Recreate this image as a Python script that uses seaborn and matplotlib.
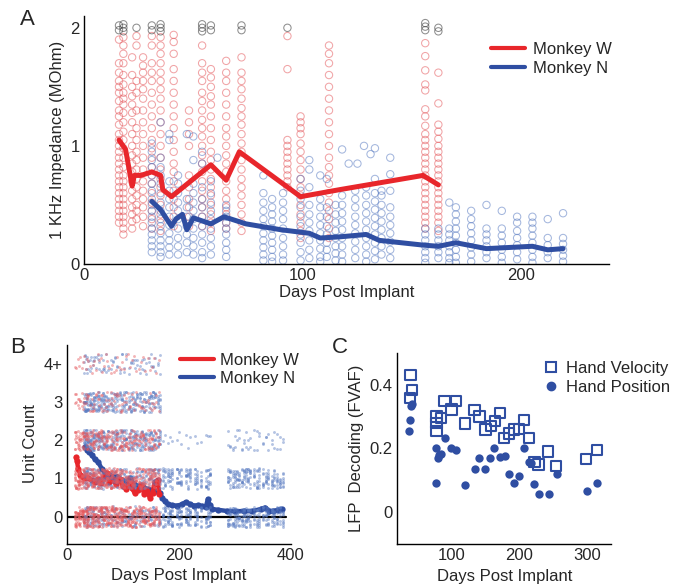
"""Electrode impedance, unit count and LFP decoding over days post implant."""

import pandas as pd
import matplotlib
matplotlib.use("Agg")
import matplotlib.pyplot as plt
from matplotlib.lines import Line2D
import seaborn as sns

# ---------------- Panel A: 1 kHz impedance per electrode ----------------
W_days_A = [16, 18, 22, 24, 27, 31, 35, 41, 48, 54, 58, 65, 72, 93, 99, 112, 156, 162]
W_imp_A = [
    [2.02, 1.98, 1.9, 1.7, 1.62, 1.55, 1.5, 1.45, 1.38, 1.3, 1.25, 1.18, 1.1, 1.05, 1.0, 0.95,
     0.9, 0.85, 0.8, 0.75, 0.7, 0.65, 0.6, 0.55, 0.5, 0.45, 0.4, 0.35],
    [2.03, 2.0, 1.97, 1.92, 1.85, 1.78, 1.7, 1.6, 1.52, 1.45, 1.4, 1.35, 1.28, 1.2, 1.12, 1.05,
     0.98, 0.9, 0.82, 0.75, 0.7, 0.65, 0.6, 0.55, 0.5, 0.45, 0.4, 0.35, 0.3, 0.25],
    [1.75, 1.6, 1.5, 1.42, 1.35, 1.28, 1.2, 1.1, 1.0, 0.92, 0.85, 0.78, 0.7, 0.62, 0.55, 0.48,
     0.42, 0.36, 0.3],
    [2.0, 1.93, 1.85, 1.55, 1.45, 1.3, 1.15, 1.05, 0.95, 0.88, 0.8, 0.72, 0.65, 0.58, 0.5, 0.45,
     0.38],
    [1.75, 1.68, 1.62, 1.55, 1.48, 1.4, 1.3, 1.2, 1.1, 1.0, 0.9, 0.8, 0.7, 0.62, 0.55, 0.48, 0.4,
     0.32],
    [2.02, 1.98, 1.93, 1.85, 1.7, 1.62, 1.55, 1.45, 1.35, 1.25, 1.15, 1.05, 0.98, 0.9, 0.82, 0.75,
     0.68, 0.6, 0.52, 0.45, 0.38, 0.3],
    [2.03, 2.0, 1.97, 1.92, 1.85, 1.78, 1.7, 1.62, 1.55, 1.48, 1.4, 1.3, 1.2, 1.1, 1.0, 0.9, 0.8,
     0.72, 0.65, 0.58, 0.5, 0.42, 0.35, 0.28],
    [1.94, 1.88, 1.78, 1.65, 1.55, 1.45, 1.35, 1.25, 1.15, 1.05, 0.95, 0.85, 0.78, 0.7, 0.62,
     0.55, 0.48, 0.4, 0.32],
    [1.3, 1.2, 1.1, 1.0, 0.75, 0.65, 0.55, 0.48, 0.4, 0.32],
    [2.03, 2.0, 1.97, 1.85, 1.7, 1.62, 1.55, 1.45, 1.38, 1.3, 1.22, 1.15, 1.08, 1.0, 0.92, 0.85,
     0.78, 0.7, 0.62, 0.55, 0.48, 0.4, 0.32],
    [2.02, 1.98, 1.65, 1.58, 1.5, 1.42, 1.35, 1.25, 1.15, 1.05, 0.95, 0.88, 0.8, 0.72, 0.65, 0.58,
     0.5, 0.42, 0.35, 0.28],
    [1.72, 1.62, 1.55, 1.45, 1.35, 1.25, 1.15, 1.08, 1.0, 0.92, 0.85, 0.78, 0.7, 0.62, 0.55, 0.48,
     0.42, 0.35, 0.3],
    [2.02, 1.98, 1.75, 1.62, 1.55, 1.48, 1.4, 1.32, 1.25, 1.18, 1.1, 1.02, 0.95, 0.88, 0.8, 0.72,
     0.65, 0.58, 0.5, 0.42, 0.35, 0.28],
    [2.0, 1.93, 1.65, 1.05, 1.0, 0.95, 0.9, 0.85, 0.8, 0.75, 0.7, 0.65],
    [1.25, 1.2, 1.15, 1.1, 1.02, 0.95, 0.88, 0.8, 0.72, 0.65, 0.58, 0.5, 0.42, 0.35, 0.28, 0.22],
    [1.85, 1.78, 1.7, 1.6, 1.5, 1.4, 1.3, 1.2, 1.1, 1.0, 0.9, 0.82, 0.75, 0.68, 0.6, 0.52, 0.45,
     0.38, 0.3, 0.22],
    [2.04, 2.01, 1.98, 1.87, 1.76, 1.64, 1.52, 1.47, 1.31, 1.25, 1.17, 1.1, 1.05, 1.0, 0.95, 0.9,
     0.85, 0.8, 0.75, 0.7, 0.65, 0.6, 0.55, 0.5, 0.45, 0.4, 0.35, 0.3],
    [2.0, 1.97, 1.62, 1.36, 1.18, 1.12, 1.06, 1.0, 0.95, 0.9, 0.85, 0.8, 0.75, 0.7, 0.65, 0.6,
     0.55, 0.5, 0.45, 0.4, 0.35, 0.28],
]

N_days_A = [31, 35, 39, 43, 47, 50, 54, 58, 61, 65, 82, 86, 91, 99, 103, 108, 111, 115, 118,
            121, 124, 125, 128, 129, 131, 133, 136, 140, 156, 162, 167, 170, 177, 184, 191, 198,
            205, 212, 219]
N_imp_A = [
    [1.02, 0.95, 0.88, 0.82, 0.75, 0.68, 0.62, 0.55, 0.5, 0.45, 0.4, 0.35, 0.3, 0.25, 0.2, 0.15, 0.1],
    [1.2, 0.9, 0.82, 0.75, 0.68, 0.6, 0.52, 0.45, 0.38, 0.32, 0.26, 0.2, 0.15, 0.1, 0.06],
    [1.1, 1.05, 0.7, 0.62, 0.55, 0.48, 0.4, 0.33, 0.26, 0.2, 0.14, 0.08],
    [0.75, 0.68, 0.6, 0.52, 0.45, 0.38, 0.3, 0.22, 0.15, 0.08],
    [1.1, 0.55, 0.48, 0.4, 0.32, 0.25, 0.18, 0.1],
    [1.08, 0.88, 0.68, 0.6, 0.52, 0.45, 0.38, 0.3, 0.22, 0.15, 0.08],
    [0.95, 0.85, 0.65, 0.55, 0.48, 0.4, 0.32, 0.25, 0.18, 0.1, 0.05],
    [0.7, 0.6, 0.52, 0.45, 0.38, 0.3, 0.22, 0.15, 0.08],
    [0.9],
    [0.5, 0.45, 0.4, 0.35, 0.3, 0.25, 0.18, 0.12, 0.06],
    [0.75, 0.6, 0.52, 0.45, 0.38, 0.32, 0.26, 0.2, 0.14, 0.08, 0.03],
    [0.55, 0.48, 0.42, 0.36, 0.3, 0.24, 0.18, 0.12, 0.06, 0.02],
    [0.6, 0.52, 0.45, 0.38, 0.3, 0.22, 0.15, 0.08, 0.03],
    [0.72, 0.62, 0.55, 0.48, 0.4, 0.32, 0.25, 0.18, 0.1, 0.03],
    [0.88, 0.8, 0.65, 0.5, 0.42, 0.35, 0.28, 0.2, 0.12, 0.05],
    [0.75, 0.55, 0.48, 0.4, 0.33, 0.26, 0.2, 0.13, 0.06, 0.02],
    [0.72, 0.48, 0.4, 0.32, 0.25, 0.18, 0.12, 0.06],
    [0.5, 0.42, 0.35, 0.28, 0.22, 0.15, 0.09, 0.03],
    [0.97, 0.58, 0.5, 0.43, 0.36, 0.29, 0.22, 0.15, 0.08, 0.02],
    [0.85],
    [0.62, 0.55, 0.48, 0.4, 0.33, 0.26, 0.19, 0.12, 0.05],
    [0.85],
    [1.0],
    [0.65, 0.58, 0.5, 0.43, 0.36, 0.29, 0.22, 0.15, 0.08, 0.02],
    [0.93],
    [0.98, 0.72, 0.6, 0.53, 0.46, 0.39, 0.32, 0.25, 0.18, 0.11, 0.04],
    [0.62, 0.58, 0.5, 0.43, 0.36, 0.29, 0.22, 0.15, 0.08],
    [0.9, 0.76, 0.62, 0.48, 0.4, 0.33, 0.26, 0.19, 0.12, 0.05],
    [0.3, 0.25, 0.2, 0.15, 0.1, 0.05, 0.01],
    [0.3, 0.25, 0.2, 0.15, 0.1, 0.05],
    [0.52, 0.3, 0.25, 0.2, 0.15, 0.1, 0.05, 0.01],
    [0.48, 0.42, 0.36, 0.3, 0.24, 0.18, 0.12, 0.06, 0.01],
    [0.45, 0.38, 0.32, 0.26, 0.2, 0.14, 0.08, 0.02],
    [0.5, 0.3, 0.25, 0.2, 0.15, 0.1, 0.05],
    [0.45, 0.3, 0.24, 0.18, 0.12, 0.06, 0.01],
    [0.4, 0.35, 0.28, 0.22, 0.16, 0.1, 0.04],
    [0.4, 0.35, 0.3, 0.24, 0.18, 0.12, 0.06, 0.01],
    [0.38, 0.22, 0.16, 0.1, 0.05],
    [0.43, 0.22, 0.17, 0.12, 0.07, 0.02],
]

W_line_days = [16, 19, 22, 23, 26, 31, 35, 36, 40, 58, 65, 71, 99, 117, 155, 162]
W_line_imp = [1.05, 0.97, 0.66, 0.75, 0.75, 0.78, 0.75, 0.63, 0.57, 0.84, 0.71, 0.95, 0.57,
              0.63, 0.75, 0.67]
N_line_days = [31, 35, 40, 42, 45, 47, 50, 58, 64, 74, 90, 103, 108, 117, 129, 135, 155, 162,
               170, 184, 205, 212, 219]
N_line_imp = [0.53, 0.46, 0.32, 0.38, 0.42, 0.29, 0.39, 0.34, 0.40, 0.34, 0.29, 0.26, 0.22,
              0.23, 0.25, 0.20, 0.16, 0.15, 0.18, 0.13, 0.15, 0.12, 0.13]

# ---------------- Panel B: sorted unit count per channel ----------------
W_sessions_B = [15, 17, 19, 22, 24, 27, 29, 31, 34, 36, 38, 41, 44, 46, 49, 52, 55, 57, 60, 63,
                66, 69, 72, 75, 78, 81, 84, 87, 90, 93, 96, 99, 102, 106, 109, 113, 116, 120,
                124, 128, 132, 136, 140, 144, 148, 152, 156, 160, 164]
N_sessions_early = [30, 32, 34, 36, 38, 41, 43, 46, 49, 52, 55, 58, 61, 64, 67, 70, 74, 78, 82,
                    86, 90, 94, 98, 102, 106, 110, 114, 118, 122, 126, 130, 134, 138, 142, 146,
                    150, 154, 158, 162, 166]
N_sessions_mid = [172, 176, 180, 184, 188, 196, 200, 204, 212, 216, 220, 228, 232, 240, 248,
                  252, 256]
N_sessions_late = [288, 292, 296, 300, 304, 308, 312, 316, 320, 324, 328, 334, 340, 344, 350,
                   356, 360, 366, 370, 376, 380, 386]
unit_levels = [0, 1, 2, 3, 4]
unit_labels = ["0", "1", "2", "3", "4+"]
# channels per session at each unit-count level
W_counts = [9, 8, 5, 2, 1]
N_counts_early = [5, 6, 8, 7, 2]
N_counts_mid = [9, 8, 1, 0, 0]
N_counts_late = [9, 8, 2, 0, 0]

W_unit_days = [16, 18, 20, 24, 28, 33, 38, 44, 50, 55, 60, 65, 71, 76, 82, 88, 94, 100, 106,
               112, 116, 121, 127, 133, 138, 143, 148, 153, 157, 162, 165]
W_unit_mean = [1.55, 1.45, 1.25, 1.1, 1.05, 1.0, 1.02, 0.95, 0.9, 0.98, 0.88, 1.0, 1.15, 0.92,
               0.95, 0.85, 0.98, 0.8, 0.72, 0.88, 0.75, 0.62, 0.7, 0.82, 0.6, 0.68, 0.5, 0.62,
               0.9, 0.95, 0.6]
N_unit_days = [32, 36, 40, 45, 50, 56, 62, 68, 75, 82, 90, 98, 106, 113, 120, 128, 136, 144,
               152, 160, 166, 170, 175, 180, 188, 197, 205, 212, 220, 227, 235, 242, 248, 252,
               255, 260, 270, 286, 300, 316, 330, 346, 354, 362, 369, 377, 384]
N_unit_mean = [1.83, 1.75, 1.7, 1.6, 1.5, 1.42, 1.26, 1.15, 1.08, 1.05, 1.05, 0.95, 0.92, 1.0,
               0.85, 0.8, 0.78, 0.72, 0.7, 0.66, 0.62, 0.5, 0.4, 0.33, 0.3, 0.29, 0.32, 0.38,
               0.33, 0.29, 0.3, 0.28, 0.25, 0.46, 0.3, 0.2, 0.18, 0.15, 0.14, 0.15, 0.14, 0.2,
               0.24, 0.15, 0.15, 0.18, 0.2]

# ---------------- Panel C: LFP decoding ----------------
vel_days = [40, 42, 39, 78, 78, 78, 85, 90, 100, 107, 120, 134, 141, 150, 158, 164, 171, 177,
            184, 192, 199, 207, 214, 222, 228, 242, 254, 298, 314]
vel_fvaf = [0.431, 0.384, 0.358, 0.28, 0.255, 0.30, 0.296, 0.348, 0.322, 0.348, 0.278, 0.32,
            0.30, 0.26, 0.27, 0.286, 0.311, 0.233, 0.247, 0.26, 0.261, 0.29, 0.233, 0.157, 0.15,
            0.19, 0.145, 0.168, 0.195]
pos_days = [38, 39, 41, 42, 78, 78, 80, 82, 85, 90, 100, 106, 120, 134, 141, 149, 156, 162, 171,
            178, 185, 192, 199, 206, 214, 217, 221, 228, 243, 255, 299, 314]
pos_fvaf = [0.256, 0.29, 0.334, 0.34, 0.091, 0.202, 0.171, 0.18, 0.184, 0.233, 0.2, 0.195,
            0.084, 0.137, 0.171, 0.137, 0.171, 0.202, 0.173, 0.175, 0.12, 0.09, 0.115, 0.202,
            0.157, 0.153, 0.088, 0.056, 0.056, 0.119, 0.065, 0.093]

RED = "#e8262b"
BLUE = "#2f4ea2"
RED_PT = "#e55a5e"
BLUE_PT = "#5a7cc2"
GREY_PT = "#444444"


def expand(days, values):
    rows = [(d, v) for d, col in zip(days, values) for v in col]
    return pd.DataFrame(rows, columns=["day", "value"])


def expand_counts(days, counts, monkey):
    rows = [(d, lvl, monkey) for d in days for lvl, n in zip(unit_levels, counts)
            for _ in range(n)]
    return pd.DataFrame(rows, columns=["day", "units", "monkey"])


def style_axes(ax):
    sns.despine(ax=ax)
    for side in ("left", "bottom"):
        ax.spines[side].set_linewidth(1.0)
        ax.spines[side].set_color("black")
    ax.tick_params(direction="in", length=3, width=0.8, labelsize=12, pad=3)


sns.set_style("white")
plt.rcParams["font.family"] = ["Liberation Sans", "DejaVu Sans"]

fig = plt.figure(figsize=(6.78, 5.86), dpi=100)

# ----- A -----
axA = fig.add_axes([0.1239, 0.5495, 0.7743, 0.4232])
dfW = expand(W_days_A, W_imp_A)
dfN = expand(N_days_A, N_imp_A)
over = dfW["value"] >= 1.97
sns.scatterplot(data=dfW[~over], x="day", y="value", marker="o", s=28, facecolor="none",
                edgecolor=RED_PT, linewidth=0.75, alpha=0.55, ax=axA)
sns.scatterplot(data=dfN, x="day", y="value", marker="o", s=28, facecolor="none",
                edgecolor=BLUE_PT, linewidth=0.75, alpha=0.55, ax=axA)
sns.scatterplot(data=dfW[over], x="day", y="value", marker="o", s=28, facecolor="none",
                edgecolor=GREY_PT, linewidth=0.75, alpha=0.6, ax=axA)
sns.lineplot(x=W_line_days, y=W_line_imp, color=RED, linewidth=3.6, ax=axA)
sns.lineplot(x=N_line_days, y=N_line_imp, color=BLUE, linewidth=3.6, ax=axA)
axA.set_xlim(0, 240)
axA.set_ylim(0, 2.1)
axA.set_xticks([0, 100, 200])
axA.set_yticks([0, 1, 2])
axA.set_xlabel("Days Post Implant", fontsize=12, labelpad=1)
axA.set_ylabel("1 KHz Impedance (MOhm)", fontsize=12)
style_axes(axA)
handles = [Line2D([], [], color=RED, lw=3), Line2D([], [], color=BLUE, lw=3)]
axA.legend(handles, ["Monkey W", "Monkey N"], loc="upper left", bbox_to_anchor=(0.76, 0.93),
           frameon=False, fontsize=12, handlelength=2.0, handletextpad=0.5,
           labelspacing=0.25, borderpad=0)

# ----- B -----
axB = fig.add_axes([0.0988, 0.0725, 0.330, 0.3396])
dfB_N = pd.concat([expand_counts(N_sessions_early, N_counts_early, "N"),
                   expand_counts(N_sessions_mid, N_counts_mid, "N"),
                   expand_counts(N_sessions_late, N_counts_late, "N")])
dfB_W = expand_counts(W_sessions_B, W_counts, "W")
sns.stripplot(data=dfB_N, x="day", y="units", orient="h", native_scale=True, jitter=0.27,
              color=BLUE_PT, size=2.1, alpha=0.45, linewidth=0, ax=axB)
sns.stripplot(data=dfB_W, x="day", y="units", orient="h", native_scale=True, jitter=0.27,
              color=RED_PT, size=2.1, alpha=0.45, linewidth=0, ax=axB)
axB.axhline(0, xmin=0, xmax=0.98, color="black", lw=1.6)
sns.lineplot(x=N_unit_days, y=N_unit_mean, color=BLUE, linewidth=3.2, marker="o",
             markersize=4.5, markeredgewidth=0, ax=axB)
sns.lineplot(x=W_unit_days, y=W_unit_mean, color=RED, linewidth=3.2, marker="o",
             markersize=4.5, markeredgewidth=0, ax=axB)
axB.set_xlim(0, 400)
axB.set_ylim(-0.7, 4.5)
axB.set_xticks([0, 200, 400])
axB.set_yticks(unit_levels)
axB.set_yticklabels(unit_labels)
axB.set_xlabel("Days Post Implant", fontsize=12)
axB.set_ylabel("Unit Count", fontsize=12)
style_axes(axB)
axB.legend(handles, ["Monkey W", "Monkey N"], loc="upper left", bbox_to_anchor=(0.47, 1.0),
           frameon=False, fontsize=12, handlelength=2.0, handletextpad=0.4,
           labelspacing=0.2, borderpad=0)

# ----- C -----
axC = fig.add_axes([0.5855, 0.0717, 0.3164, 0.326])
sns.scatterplot(x=vel_days, y=vel_fvaf, marker="s", s=55, facecolor="none", edgecolor=BLUE,
                linewidth=1.5, ax=axC)
sns.scatterplot(x=pos_days, y=pos_fvaf, marker="o", s=36, color=BLUE, edgecolor=BLUE,
                linewidth=0, ax=axC)
axC.set_xlim(20, 335)
axC.set_ylim(-0.1, 0.5)
axC.set_xticks([100, 200, 300])
axC.set_yticks([0, 0.2, 0.4])
axC.set_yticklabels(["0", "0.2", "0.4"])
axC.set_xlabel("Days Post Implant", fontsize=12)
axC.set_ylabel("LFP  Decoding (FVAF)", fontsize=12)
style_axes(axC)
hC = [Line2D([], [], ls="none", marker="s", ms=7, mfc="none", mec=BLUE, mew=1.5),
      Line2D([], [], ls="none", marker="o", ms=6, mfc=BLUE, mec=BLUE)]
axC.legend(hC, ["Hand Velocity", "Hand Position"], loc="upper left",
           bbox_to_anchor=(0.64, 1.0), frameon=False, fontsize=12, handlelength=1.0,
           handletextpad=0.4, labelspacing=0.2, borderpad=0)

fig.text(0.03, 0.985, "A", fontsize=16, va="top")
fig.text(0.015, 0.425, "B", fontsize=16, va="top")
fig.text(0.49, 0.425, "C", fontsize=16, va="top")

fig.savefig("out.png", dpi=100)
